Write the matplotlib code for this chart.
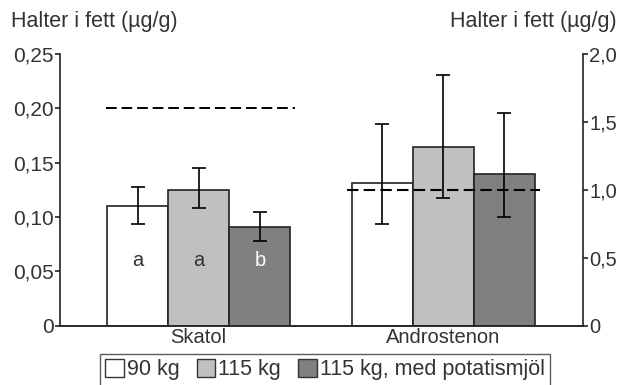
import numpy as np
import matplotlib
matplotlib.use("Agg")
import matplotlib.pyplot as plt
from matplotlib.patches import Patch

plt.rcParams["font.family"] = ["Liberation Sans", "DejaVu Sans"]

# data
groups = ["Skatol", "Androstenon"]
series = ["90 kg", "115 kg", "115 kg, med potatismjöl"]
colors = ["#ffffff", "#c0c0c0", "#808080"]

skatol_mean = [0.110, 0.125, 0.091]
skatol_low = [0.094, 0.108, 0.078]
skatol_high = [0.128, 0.145, 0.105]

andro_mean = [1.053, 1.318, 1.119]
andro_low = [0.749, 0.942, 0.802]
andro_high = [1.487, 1.845, 1.568]

skatol_limit = 0.20
andro_limit = 1.0
letters = ["a", "a", "b"]
letter_colors = ["#333333", "#333333", "#ffffff"]

text_col = "#333333"
edge_col = "#222222"
w = 0.25

fig = plt.figure(figsize=(6.18, 3.85), dpi=100)
ax = fig.add_axes([0.097, 0.154, 0.846, 0.706])
ax2 = ax.twinx()


def draw(axis, x0, mean, low, high):
    for i in range(3):
        x = x0 + (i - 1) * w
        axis.bar(x, mean[i], width=w, color=colors[i], edgecolor=edge_col,
                 linewidth=1.2, zorder=2)
        yerr = [[mean[i] - low[i]], [high[i] - mean[i]]]
        axis.errorbar(x, mean[i], yerr=yerr, fmt="none", ecolor="black",
                      elinewidth=1.2, capsize=5, capthick=1.2, zorder=3)


draw(ax, 0, skatol_mean, skatol_low, skatol_high)
draw(ax2, 1, andro_mean, andro_low, andro_high)

# reference levels (dashed)
ax.plot([-1.5 * w - 0.005, 1.5 * w + 0.02], [skatol_limit] * 2, color="black",
        linestyle=(0, (5.5, 2.5)), linewidth=1.4, zorder=4)
ax2.plot([1 - 1.5 * w - 0.02, 1 + 1.5 * w + 0.02], [andro_limit] * 2,
         color="black", linestyle=(0, (5.5, 2.5)), linewidth=1.5, zorder=4)

for i in range(3):
    ax.text((i - 1) * w, 0.06, letters[i], ha="center", va="center",
            fontsize=14.5, color=letter_colors[i], zorder=5)

ax.set_xlim(-0.567, 1.57)
ax.set_ylim(0, 0.25)
ax2.set_ylim(0, 2.0)

ax.set_yticks([0, 0.05, 0.10, 0.15, 0.20, 0.25])
ax.set_yticklabels(["0", "0,05", "0,10", "0,15", "0,20", "0,25"])
ax2.set_yticks([0, 0.5, 1.0, 1.5, 2.0])
ax2.set_yticklabels(["0", "0,5", "1,0", "1,5", "2,0"])
ax.set_xticks([0, 1])
ax.set_xticklabels(groups)

for a in (ax, ax2):
    for s in a.spines.values():
        s.set_color(edge_col)
        s.set_linewidth(1.2)
    a.spines["top"].set_visible(False)
    a.tick_params(colors=edge_col, labelcolor=text_col, labelsize=15,
                  length=3.5, width=1.2, pad=1)
ax.spines["right"].set_visible(False)
ax2.spines["left"].set_visible(False)
ax.spines["bottom"].set_color("#555555")
ax2.tick_params(axis="y", labelsize=14.5)
ax.tick_params(axis="x", length=0, pad=2, labelsize=14.5)

fig.text(0.018, 0.945, "Halter i fett (\u00b5g/g)", fontsize=15.5, color=text_col,
         ha="left", va="center")
fig.text(0.997, 0.945, "Halter i fett (\u00b5g/g)", fontsize=15.5, color=text_col,
         ha="right", va="center")

handles = [Patch(facecolor=c, edgecolor="#333333", linewidth=1.0) for c in colors]
leg = fig.legend(handles, series, loc="lower center", bbox_to_anchor=(0.526, -0.03),
                 ncol=3, fontsize=15.5, frameon=True, fancybox=False,
                 handlelength=0.85, handleheight=0.85, handletextpad=0.15,
                 columnspacing=0.8, borderpad=0.25, labelcolor=text_col)
leg.get_frame().set_edgecolor("#333333")
leg.get_frame().set_linewidth(1.0)

fig.savefig("out.png", dpi=100)
